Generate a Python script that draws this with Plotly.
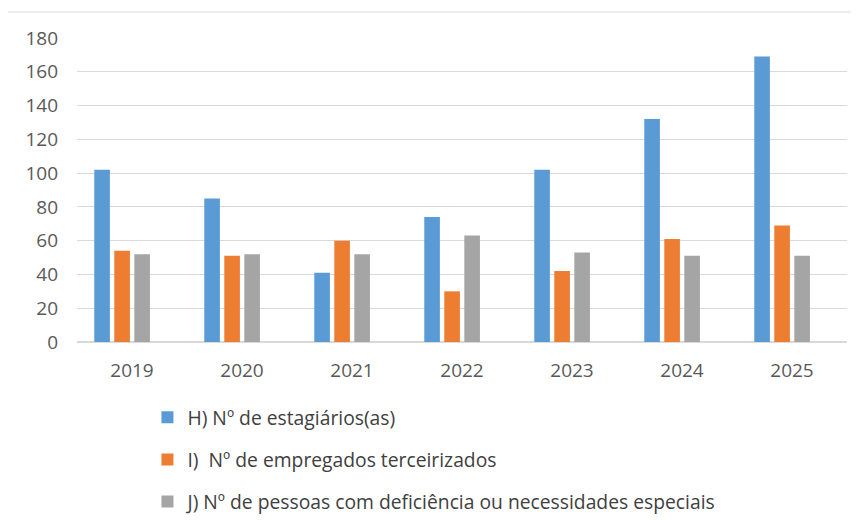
import plotly.graph_objects as go

years = ["2019", "2020", "2021", "2022", "2023", "2024", "2025"]
estagiarios = [102, 85, 41, 74, 102, 132, 169]
terceirizados = [54, 51, 60, 30, 42, 61, 69]
pcd = [52, 52, 52, 63, 53, 51, 51]
names = [
    "H) Nº de estagiários(as)",
    "I)  Nº de empregados terceirizados",
    "J) Nº de pessoas com deficiência ou necessidades especiais",
]
colors = ["#5b9bd5", "#ed7d31", "#a5a5a5"]
offsets = [-0.343, -0.161, 0.021]

FONT = "Open Sans"
fig = go.Figure()
for i, (vals, nm) in enumerate(zip([estagiarios, terceirizados, pcd], names)):
    fig.add_trace(go.Bar(
        x=years, y=vals, name=nm, marker_color=colors[i], marker_line_width=0,
        width=0.142, offset=offsets[i], legendgroup=str(i),
    ))

fig.update_layout(
    width=851, height=512,
    margin=dict(l=69, r=12, t=30, b=178, autoexpand=False),
    barmode="overlay",
    plot_bgcolor="white", paper_bgcolor="white",
    font=dict(family=FONT, size=19, color="#595959"),
    showlegend=True,
    legend=dict(
        orientation="v", x=0.0915, xanchor="left", y=-0.185, yanchor="top",
        font=dict(family=FONT, size=19.3, color="#404040"),
        tracegroupgap=14, itemwidth=30, bgcolor="rgba(0,0,0,0)",
    ),
    xaxis=dict(
        type="category", showgrid=False, showline=True, linecolor="#d9d9d9",
        linewidth=1, ticks="", tickfont=dict(size=19, color="#595959"),
        range=[-0.5, 6.5], ticklabelstandoff=11,
    ),
    yaxis=dict(
        range=[0, 180], dtick=20, showgrid=True, gridcolor="#d9d9d9", gridwidth=1,
        zeroline=True, zerolinecolor="#d9d9d9", showline=False, ticks="",
        ticklabelstandoff=18, tickfont=dict(size=19, color="#595959"),
    ),
    shapes=[dict(
        type="rect", xref="paper", yref="paper",
        x0=-0.091, x1=1.05, y0=-0.7, y1=1.0855,
        line=dict(color="#d9d9d9", width=1), fillcolor="rgba(0,0,0,0)", layer="below",
    )],
)

fig.write_html("out.html")
